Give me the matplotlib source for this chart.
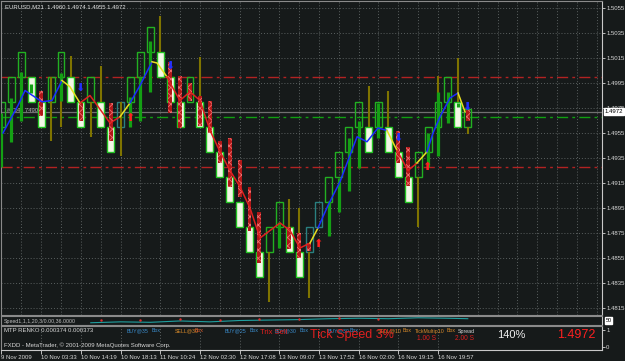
import matplotlib
matplotlib.use("Agg")
import matplotlib.pyplot as plt
from matplotlib.transforms import blended_transform_factory

BG = "#161a1a"
GRID = "#5a6060"
TXT = "#d8d8d8"
plt.rcParams['hatch.linewidth'] = 0.6
plt.rcParams['font.family'] = ['Liberation Sans', 'DejaVu Sans']

# renko bricks (bar index = position in list)
brick_lo = [1.4960, 1.4980, 1.5000, 1.4980, 1.4960, 1.4980, 1.5000, 1.4980, 1.4960, 1.4980,
            1.4960, 1.4940, 1.4960, 1.4980, 1.5000, 1.5020, 1.5000, 1.4980, 1.4960, 1.4980,
            1.4960, 1.4940, 1.4920, 1.4900, 1.4880, 1.4860, 1.4840, 1.4860, 1.4880, 1.4860,
            1.4840, 1.4860, 1.4880, 1.4900, 1.4920, 1.4940, 1.4960, 1.4940, 1.4960, 1.4940,
            1.4920, 1.4900, 1.4920, 1.4940, 1.4960, 1.4980, 1.4960, 1.4960]
brick_hi = [1.4980, 1.5000, 1.5020, 1.5000, 1.4980, 1.5000, 1.5020, 1.5000, 1.4980, 1.5000,
            1.4980, 1.4960, 1.4980, 1.5000, 1.5020, 1.5040, 1.5020, 1.5000, 1.4980, 1.5000,
            1.4980, 1.4960, 1.4940, 1.4920, 1.4900, 1.4880, 1.4860, 1.4880, 1.4900, 1.4880,
            1.4860, 1.4880, 1.4900, 1.4920, 1.4940, 1.4960, 1.4980, 1.4960, 1.4980, 1.4960,
            1.4940, 1.4920, 1.4940, 1.4960, 1.4980, 1.5000, 1.4980, 1.4974]
# W = white (down) brick, E = empty green brick, T = empty teal brick
brick_kind = ['E', 'E', 'E', 'W', 'W', 'E', 'E', 'W', 'W', 'E',
              'W', 'W', 'T', 'E', 'E', 'E', 'W', 'W', 'W', 'E',
              'W', 'W', 'W', 'W', 'W', 'W', 'W', 'E', 'E', 'W',
              'W', 'T', 'T', 'E', 'E', 'E', 'E', 'W', 'E', 'W',
              'W', 'W', 'E', 'E', 'E', 'E', 'W', 'E']

green_idx = [0, 1, 2, 3, 6, 13, 14, 15, 28, 33, 34, 35, 36, 38, 43, 44, 45, 46]
green_lo = [1.4928, 1.4948, 1.4965, 1.4987, 1.4981, 1.4960, 1.4965, 1.4988, 1.4863, 1.4873,
            1.4892, 1.4909, 1.4927, 1.4951, 1.4928, 1.4937, 1.4963, 1.4976]
green_hi = [1.4971, 1.4983, 1.5004, 1.4994, 1.5003, 1.4984, 1.5000, 1.5029, 1.4884, 1.4901,
            1.4919, 1.4951, 1.4965, 1.4979, 1.4955, 1.4988, 1.4988, 1.4979]

wick_idx = [5, 6, 7, 9, 10, 12, 16, 20, 27, 29, 30, 31, 37, 39, 42, 44, 46, 47]
wick_lo = [1.4949, 1.4960, 1.5000, 1.4952, 1.4980, 1.4937, 1.5020, 1.4980, 1.4820, 1.4880,
           1.4860, 1.4823, 1.4960, 1.4960, 1.4880, 1.4980, 1.4980, 1.4954]
wick_hi = [1.5000, 1.5000, 1.5017, 1.4980, 1.5009, 1.4980, 1.5049, 1.5016, 1.4860, 1.4902,
           1.4895, 1.4860, 1.4993, 1.4989, 1.4920, 1.5001, 1.5015, 1.4960]

red_idx = [4, 8, 11, 17, 18, 19, 20, 21, 22, 23, 24, 25, 26, 29, 30, 31, 40, 41, 47]
red_lo = [1.4969, 1.4965, 1.4949, 1.4971, 1.4959, 1.4981, 1.4961, 1.4955, 1.4931, 1.4912,
          1.4904, 1.4877, 1.4851, 1.4862, 1.4855, 1.4861, 1.4931, 1.4913, 1.4965]
red_hi = [1.4989, 1.4979, 1.4979, 1.5012, 1.5001, 1.4995, 1.4985, 1.4981, 1.4949, 1.4951,
          1.4933, 1.4912, 1.4892, 1.4880, 1.4875, 1.4867, 1.4957, 1.4944, 1.4973]

# zigzag legs
zz = [
    ("#1a2cff", [0.15, 1.66, 2.37, 4.08, 5.09, 6.10], [1.4955, 1.4977, 1.4989, 1.4980, 1.4981, 1.4997]),
    ("#e8e020", [6.10, 6.90, 7.91], [1.4997, 1.4992, 1.4979]),
    ("#e02020", [7.91, 8.92, 10.94, 11.95], [1.4979, 1.4985, 1.4963, 1.4968]),
    ("#e8e020", [11.95, 12.95], [1.4968, 1.4979]),
    ("#1a2cff", [12.95, 13.96, 15.17], [1.4979, 1.4993, 1.5012]),
    ("#e8e020", [15.17, 15.68, 16.68], [1.5012, 1.5011, 1.5000]),
    ("#e02020", [16.68, 16.99, 17.99, 19.0, 20.01, 21.02, 22.03, 23.03, 24.04, 25.05, 26.06,
                 27.07, 28.08, 29.08, 30.09, 31.1],
     [1.5000, 1.4995, 1.4981, 1.4988, 1.4981, 1.4957, 1.4940, 1.4925, 1.4912, 1.4895, 1.4871,
      1.4877, 1.4883, 1.4877, 1.4863, 1.4867]),
    ("#e8e020", [31.1, 31.9], [1.4867, 1.4879]),
    ("#1a2cff", [31.9, 32.91, 34.12, 34.93, 35.84, 36.84, 37.95, 38.86],
     [1.4879, 1.4897, 1.4916, 1.4933, 1.4952, 1.4948, 1.4959, 1.4957]),
    ("#e8e020", [38.86, 39.87], [1.4957, 1.4941]),
    ("#e02020", [39.87, 40.98, 41.88], [1.4941, 1.4925, 1.4931]),
    ("#e8e020", [41.88, 42.89], [1.4931, 1.4940]),
    ("#1a2cff", [42.89, 43.5, 44.2, 45.21, 46.02], [1.4940, 1.4955, 1.4968, 1.4983, 1.4987]),
    ("#e8e020", [46.02, 46.72], [1.4987, 1.4972]),
]

sell_x = [7.91, 16.99, 39.97, 46.93]
sell_y = [1.4991, 1.5009, 1.4951, 1.4976]
buy_x = [12.95, 31.9, 42.89]
buy_y = [1.4967, 1.4866, 1.4928]

price_ticks = [1.5055, 1.5035, 1.5015, 1.4995, 1.4975, 1.4955, 1.4935, 1.4915, 1.4895,
               1.4875, 1.4855, 1.4835, 1.4815]
time_pos = [0, 4, 8, 12, 16, 20, 24, 28, 32, 36, 40, 44]
time_labels = ["9 Nov 2009", "10 Nov 03:33", "10 Nov 14:19", "10 Nov 18:13", "11 Nov 10:24",
               "12 Nov 02:30", "12 Nov 17:08", "13 Nov 09:07", "13 Nov 17:52", "16 Nov 02:00",
               "16 Nov 19:15", "16 Nov 19:57"]

# speed subwindow
speed_x = [9, 12, 15, 18, 21, 24, 27, 30, 33, 36, 39, 42, 45, 47]
speed_y = [0.25, 0.35, 0.3, 0.45, 0.35, 0.5, 0.55, 0.6, 0.7, 0.75, 0.7, 0.8, 0.75, 0.7]
speed_red_x = [10, 14, 18, 22, 26, 30, 34, 38]
speed_red_y = [0.6, 0.55, 0.65, 0.6, 0.7, 0.65, 0.75, 0.7]

W, H = 625, 361
fig = plt.figure(figsize=(6.25, 3.61), dpi=100, facecolor=BG)


def box(x0, y0, x1, y1):
    return [x0 / W, 1 - y1 / H, (x1 - x0) / W, (y1 - y0) / H]


def ftext(x, y, s, color=TXT, size=4.3, **kw):
    fig.text(x / W, 1 - y / H, s, color=color, fontsize=size, va='center', ha='left', **kw)


XLIM = (-0.05, 60.53)
ax = fig.add_axes(box(1, 1, 602, 315))
ax.set_facecolor(BG)
ax.set_xlim(*XLIM)
ax.set_ylim(1.48094, 1.50606)
ax.set_xticks(range(0, 62, 2))
ax.set_yticks(price_ticks)
ax.set_yticklabels(["%.4f" % p for p in price_ticks])
ax.yaxis.tick_right()
ax.tick_params(axis='y', colors=TXT, labelsize=4.3, length=2, pad=1, width=0.6)
ax.tick_params(axis='x', length=0, labelbottom=False)
ax.grid(True, color=GRID, linestyle=(0, (1, 2)), linewidth=0.7)
for s in ['top', 'left', 'bottom']:
    ax.spines[s].set_color('#8a8a8a')
    ax.spines[s].set_linewidth(0.8)
ax.spines['right'].set_color('#c8c8c8')

# level lines
ax.axhline(1.5000, color='#b22222', lw=1, linestyle=(0, (8, 3, 2, 3)))
ax.axhline(1.4928, color='#b22222', lw=1, linestyle=(0, (8, 3, 2, 3)))
ax.axhline(1.4968, color='#10a010', lw=1, linestyle=(0, (8, 3, 2, 3)))
ax.axhline(1.4972, color='#707070', lw=0.9)

# bricks
for i in range(len(brick_lo)):
    k = brick_kind[i]
    if k == 'W':
        ax.bar(i, brick_hi[i] - brick_lo[i], bottom=brick_lo[i], width=0.7,
               facecolor='#f3f7e6', edgecolor='#22c422', linewidth=1, zorder=2)
    else:
        ec = '#2a8080' if k == 'T' else '#22b022'
        ax.bar(i, brick_hi[i] - brick_lo[i], bottom=brick_lo[i], width=0.7,
               facecolor='none', edgecolor=ec, linewidth=1, zorder=2)

ax.vlines(wick_idx, wick_lo, wick_hi, color='#7f7400', lw=1.5, zorder=3)
ax.vlines(green_idx, green_lo, green_hi, color='#14a014', lw=2.3, zorder=4)
ax.bar(red_idx, [h - l for h, l in zip(red_hi, red_lo)], bottom=red_lo, width=0.4,
       color='#b01818', edgecolor='#f07070', hatch='xxxx', linewidth=0, zorder=5)

for c, xs, ys in zz:
    ax.plot(xs, ys, color=c, lw=1.1, zorder=6)

for x, y in zip(sell_x, sell_y):
    ax.text(x, y, '\u2b07', color='#2030ff', fontsize=8, ha='center', va='center', zorder=7,
            family='DejaVu Sans')
for x, y in zip(buy_x, buy_y):
    ax.text(x, y, '\u2b06', color='#ff2020', fontsize=8, ha='center', va='center', zorder=7,
            family='DejaVu Sans')

tr = blended_transform_factory(ax.transAxes, ax.transData)
ax.text(1.005, 1.4972, "1.4972", transform=tr, color='black', fontsize=4.3, va='center', ha='left',
        bbox=dict(facecolor='white', edgecolor='white', pad=0.6), clip_on=False)
ax.text(0.01, 1.4973, "#1345 7490", transform=tr, color='#b0b0b0', fontsize=4.2, va='center')

# speed subwindow
ax1 = fig.add_axes(box(1, 316, 602, 325))
ax1.set_facecolor(BG)
ax1.set_xlim(*XLIM)
ax1.set_ylim(0, 1)
ax1.set_xticks([])
ax1.set_yticks([])
for s in ax1.spines.values():
    s.set_color('#8a8a8a')
    s.set_linewidth(0.8)
ax1.spines['right'].set_color('#c8c8c8')
ax1.plot(speed_x, speed_y, color='#20a0a0', lw=0.8)
ax1.plot(speed_red_x, speed_red_y, color='#e03030', lw=0, marker='.', ms=1.5)
ax1.text(1.006, 0.5, "50", transform=ax1.transAxes, color='black', fontsize=4, va='center',
         bbox=dict(facecolor='white', edgecolor='white', pad=0.4), clip_on=False)

# renko info subwindow
ax2 = fig.add_axes(box(1, 326, 602, 350))
ax2.set_facecolor(BG)
ax2.set_xlim(*XLIM)
ax2.set_ylim(-0.176, 1.235)
ax2.set_yticks([0, 1])
ax2.yaxis.tick_right()
ax2.tick_params(axis='y', colors=TXT, labelsize=4.3, length=2, pad=1, width=0.6)
ax2.set_xticks(time_pos)
ax2.set_xticklabels(time_labels, ha='left')
ax2.tick_params(axis='x', colors=TXT, labelsize=4.3, length=3, pad=0.5, width=0.6)
ax2.grid(True, axis='x', color=GRID, linestyle=(0, (1, 2)), linewidth=0.7)
for s in ax2.spines.values():
    s.set_color('#8a8a8a')
    s.set_linewidth(0.8)
ax2.spines['right'].set_color('#c8c8c8')
ax2.spines['bottom'].set_color('#c8c8c8')

ftext(5, 7, "EURUSD,M21  1.4960 1.4974 1.4955 1.4972", color='#e0e0e0')
ftext(4, 321, "Speed1,1,1,20,3/0.00,36.0000", color='#c0c0c0', size=3.8)
ftext(4, 331, "MTP RENKO 0.000374 0.000373")
ftext(4, 345, "FXDD - MetaTrader, \u00a9 2001-2009 MetaQuotes Software Corp.")

BLUE = '#3a8ccc'
ORNG = '#d88a2a'
ftext(127, 331, "BUY@35", BLUE, 3.8)
ftext(152, 331, "Box", BLUE, 3.8)
ftext(175, 331, "SELL@30", ORNG, 3.8)
ftext(195, 331, "Box", '#d85a2a', 3.8)
ftext(225, 331, "BUY@25", BLUE, 3.8)
ftext(250, 331, "Box", BLUE, 3.8)
ftext(275, 331, "BUY@30", BLUE, 3.8)
ftext(300, 331, "Box", BLUE, 3.8)
ftext(328, 331, "BUY@30", BLUE, 3.8)
ftext(350, 331, "Box", BLUE, 3.8)
ftext(378, 331, "SELL@10", ORNG, 3.8)
ftext(403, 331, "Box", ORNG, 3.8)
ftext(415, 331, "TickMultip10", ORNG, 3.8)
ftext(447, 331, "Box", ORNG, 3.8)
ftext(458, 331, "Spread", TXT, 3.8)
ftext(260, 333, "Trix Sell", '#e02020', 5.5)
ftext(310, 335, "Tick Speed 3%", '#e02020', 9)
ftext(417, 338, "1.00 S", '#e02020', 4.8)
ftext(455, 338, "2.00 S", '#e02020', 4.8)
ftext(497, 335, "140%", '#f0f0f0', 8)
ftext(557, 335, "1.4972", '#ff2020', 9)

fig.savefig("out.png", dpi=100, facecolor=BG)
